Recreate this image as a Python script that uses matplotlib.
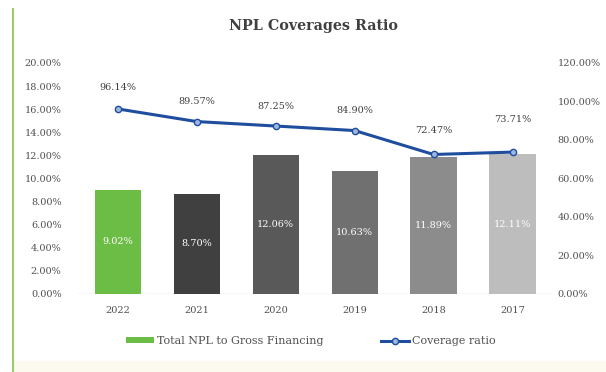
import numpy as np
import matplotlib.pyplot as plt
from matplotlib.lines import Line2D
from matplotlib.patches import Patch, Rectangle

# DATA
years = ["2022", "2021", "2020", "2019", "2018", "2017"]
npl_ratio = [9.02, 8.70, 12.06, 10.63, 11.89, 12.11]       # % of gross financing
coverage = [96.14, 89.57, 87.25, 84.90, 72.47, 73.71]       # coverage ratio %
left_ticks = [0, 2, 4, 6, 8, 10, 12, 14, 16, 18, 20]
right_ticks = [0, 20, 40, 60, 80, 100, 120]

# styles
bar_colors = ["#6CBD45", "#404040", "#595959", "#707070", "#8C8C8C", "#BDBDBD"]
line_color = "#1F4E9E"
label_offsets = [12, 11, 11, 11, 14, 20]  # pt above each line point
text_gray = "#505050"

plt.rcParams['font.family'] = ['DejaVu Serif']

fig = plt.figure(figsize=(6.06, 3.72), dpi=100)
ax = fig.add_axes([0.129, 0.2097, 0.782, 0.621])
ax2 = ax.twinx()

x = np.arange(len(years))
bars = ax.bar(x, npl_ratio, width=0.585, color=bar_colors, zorder=2)
for xi, v in zip(x, npl_ratio):
    ax.text(xi, v / 2, f"{v:.2f}%", ha="center", va="center",
            color="white", fontsize=7, zorder=3)

ax.set_xlim(-0.5, len(years) - 0.5)
ax.set_ylim(0, 20)
ax.set_yticks(left_ticks)
ax.set_yticklabels([f"{t:.2f}%" for t in left_ticks])
ax.set_xticks(x)
ax.set_xticklabels(years)
ax.tick_params(axis="both", length=0, labelsize=7, labelcolor=text_gray)
ax.tick_params(axis="x", pad=9)
ax.tick_params(axis="y", pad=12)
for s in ax.spines.values():
    s.set_visible(False)
ax.axhline(0, color="#D9D9D9", lw=1, zorder=1)

ax2.plot(x, coverage, color=line_color, lw=2.2, marker="o", markersize=4.5,
         markerfacecolor="#9DB7E0", markeredgecolor=line_color,
         markeredgewidth=1, zorder=4)
for xi, v, off in zip(x, coverage, label_offsets):
    ax2.annotate(f"{v:.2f}%", (xi, v), xytext=(0, off),
                 textcoords="offset points", ha="center", va="bottom",
                 fontsize=7, color="#404040")
ax2.set_ylim(0, 120)
ax2.set_yticks(right_ticks)
ax2.set_yticklabels([f"{t:.2f}%" for t in right_ticks])
ax2.tick_params(axis="y", length=0, labelsize=7, labelcolor=text_gray, pad=4)
for s in ax2.spines.values():
    s.set_visible(False)

fig.text(0.517, 0.93, "NPL Coverages Ratio", ha="center", va="center",
         fontsize=10.3, fontweight="bold", color="#404040")

handles = [Patch(facecolor=bar_colors[0], edgecolor="none"),
           Line2D([0], [0], color=line_color, lw=2.2, marker="o", markersize=4.5,
                  markerfacecolor="#9DB7E0", markeredgecolor=line_color)]
fig.legend(handles, ["Total NPL to Gross Financing", "Coverage ratio"],
           loc="center", bbox_to_anchor=(0.513, 0.083), ncol=2, frameon=False,
           fontsize=8, labelcolor=text_gray, handlelength=2.5,
           handleheight=0.5, handletextpad=0.3, columnspacing=5.2)

# decorative frame bits
fig.add_artist(Line2D([0.0215, 0.0215], [0.0, 0.975], color="#9CCB6B", lw=1.5))
fig.add_artist(Rectangle((0.0225, 0.0), 0.98, 0.03, color="#FCF9EE", zorder=0))

fig.savefig("out.png", dpi=100)
